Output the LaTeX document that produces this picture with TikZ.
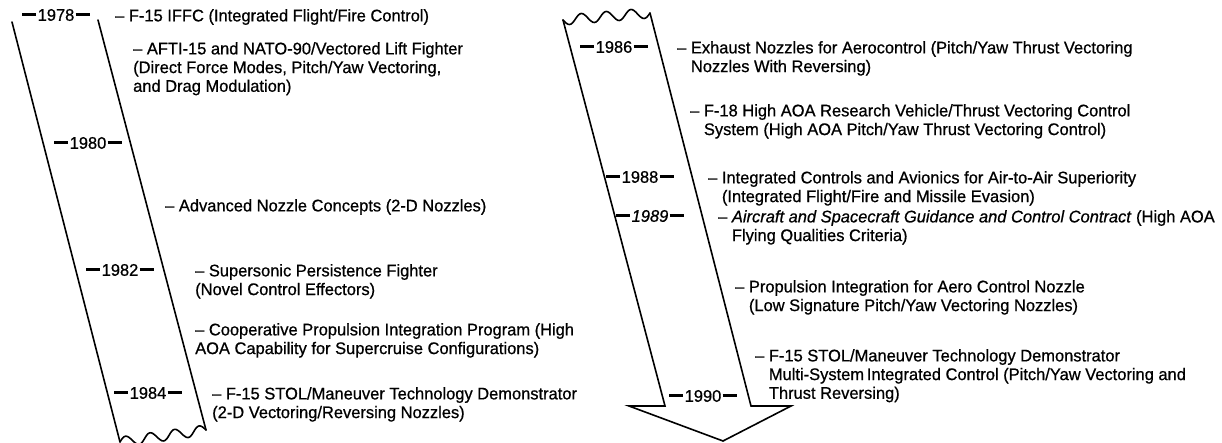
\documentclass[tikz,border=0pt]{standalone}
\usepackage{fontspec}
\setmainfont{Liberation Sans}[FakeStretch=0.98,FakeBold=0.7]
\newcommand{\yrdash}{\rule[4.6pt]{14pt}{2.8pt}}
\newcommand{\yr}[1]{\yrdash\kern1.2pt#1\kern1.2pt\yrdash}
\newcommand{\hang}{\phantom{– }}
\begin{document}
\begin{tikzpicture}[x=1pt,y=-1pt,
  every node/.style={inner sep=0pt},
  txt/.style={font=\fontsize{16.8}{18.7}\selectfont},
  item/.style={txt,anchor=north west,align=left},
  yearlbl/.style={txt,anchor=center},
  band/.style={line width=1.6pt,line join=miter,line cap=round}]
\useasboundingbox (0,0) rectangle (1222,443);

% ---------- left band ----------
\coordinate (LTL) at (12,22);
\coordinate (LBL) at (120,442);
\coordinate (LTR) at (98,20);
\coordinate (LBR) at (206,430);
\draw[band] (LTL) -- (LBL);
\draw[band] (LTR) -- (LBR);
\draw[band] plot[smooth,variable=\t,domain=0:1,samples=57]
  ({120+86*\t-0.69*sin(1260*\t)},{442-12*\t-4.96*sin(1260*\t)});

% ---------- right band (arrow) ----------
\coordinate (R1) at (563,20);
\coordinate (R2) at (665,406);
\coordinate (R3) at (629,406);
\coordinate (R4) at (723,441);
\coordinate (R5) at (791,406);
\coordinate (R6) at (751,406);
\coordinate (R7) at (650,13);
\draw[band] (R1) -- (R2) -- (R3) -- (R4) -- (R5) -- (R6) -- (R7);
\draw[band] plot[smooth,variable=\t,domain=0:1,samples=57]
  ({563+87*\t+0.4*sin(1260*\t)},{20-7*\t+5*sin(1260*\t)});

% ---------- years ----------
\node[yearlbl] (y1978) at (56,15) {\yr{1978}};
\node[yearlbl] (y1980) at (88,143) {\yr{1980}};
\node[yearlbl] (y1982) at (120,270) {\yr{1982}};
\node[yearlbl] (y1984) at (148,393) {\yr{1984}};
\node[yearlbl] (y1986) at (614,47) {\yr{1986}};
\node[yearlbl] (y1988) at (640,177) {\yr{1988}};
\node[yearlbl] (y1989) at (650,216) {\yr{\itshape 1989}};
\node[yearlbl] (y1990) at (703,396) {\yr{1990}};

% ---------- left items ----------
\node[item] (n1) at (115,9) {– F-15 IFFC (Integrated Flight/Fire Control)};
\node[item] (n2) at (133,42) {– AFTI-15 and NATO-90/Vectored Lift Fighter\\(Direct Force Modes, Pitch/Yaw Vectoring,\\and Drag Modulation)};
\node[item] (n3) at (165,199) {– Advanced Nozzle Concepts (2-D Nozzles)};
\node[item] (n4) at (195,264) {– Supersonic Persistence Fighter\\(Novel Control Effectors)};
\node[item] (n5) at (195,323) {– Cooperative Propulsion Integration Program (High\\AOA Capability for Supercruise Configurations)};
\node[item] (n6) at (212,387) {– F-15 STOL/Maneuver Technology Demonstrator\\(2-D Vectoring/Reversing Nozzles)};

% ---------- right items ----------
\node[item] (r1) at (677,41) {– Exhaust Nozzles for Aerocontrol (Pitch/Yaw Thrust Vectoring\\\hang Nozzles With Reversing)};
\node[item] (r2) at (690,104) {– F-18 High AOA Research Vehicle/Thrust Vectoring Control\\\hang System (High AOA Pitch/Yaw Thrust Vectoring Control)};
\node[item] (r3) at (708,171) {– Integrated Controls and Avionics for Air-to-Air Superiority\\\hang (Integrated Flight/Fire and Missile Evasion)};
\node[item] (r4) at (718,210) {– \textit{Aircraft and Spacecraft Guidance and Control Contract} (High AOA\\\hang Flying Qualities Criteria)};
\node[item] (r5) at (735,280) {– Propulsion Integration for Aero Control Nozzle\\\hang (Low Signature Pitch/Yaw Vectoring Nozzles)};
\node[item] (r6) at (755,349) {– F-15 STOL/Maneuver Technology Demonstrator\\\hang Multi-System\,Integrated Control (Pitch/Yaw Vectoring and\\\hang Thrust Reversing)};
\end{tikzpicture}
\end{document}
